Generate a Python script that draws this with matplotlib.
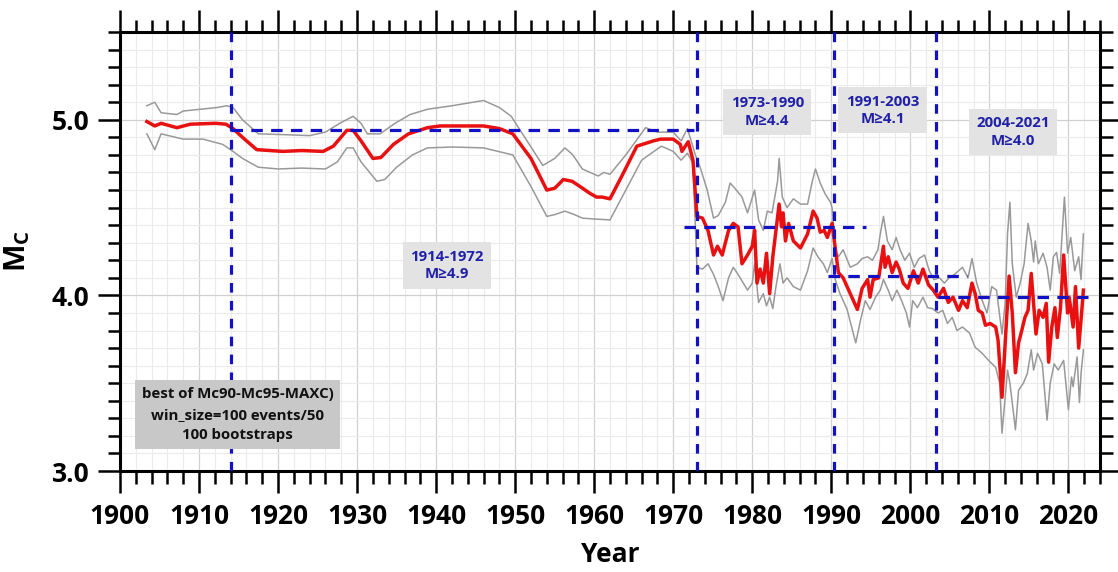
import matplotlib
matplotlib.use('Agg')
import matplotlib.pyplot as plt
from matplotlib.ticker import MultipleLocator, FormatStrFormatter

plt.rcParams['font.family'] = ['Open Sans', 'DejaVu Sans']
plt.rcParams['font.weight'] = 'bold'
plt.rcParams['mathtext.fontset'] = 'custom'
plt.rcParams['mathtext.rm'] = 'Open Sans:bold'
plt.rcParams['mathtext.bf'] = 'Open Sans:bold'

# Mc (best of Mc90 / Mc95 / MAXC) with bootstrap bounds
mc_year = [1903.4, 1904.4, 1905.2, 1907.2, 1908.9, 1912.1, 1913.4, 1914.3, 1915.5, 1917.3,
           1920.6, 1923.0, 1925.7, 1927.0, 1928.7, 1929.5, 1930.5, 1932.0, 1933.0, 1934.6,
           1936.5, 1938.9, 1940.5, 1946.0, 1948.0, 1949.7, 1952.0, 1954.0, 1955.0, 1956.1,
           1957.2, 1958.2, 1959.5, 1960.3, 1961.0, 1962.0, 1963.5, 1965.4, 1967.5, 1968.4,
           1970.0, 1970.9, 1971.1, 1971.9, 1972.5, 1973.0, 1973.7, 1974.4, 1975.1, 1975.6,
           1976.2, 1977.0, 1977.6, 1978.2, 1978.7, 1979.4, 1980.0, 1980.3, 1980.6, 1981.0,
           1981.4, 1981.8, 1982.2, 1982.6, 1983.0, 1983.4, 1983.7, 1983.9, 1984.2, 1984.6,
           1985.2, 1986.1, 1987.0, 1987.7, 1988.2, 1988.6, 1989.1, 1989.5, 1990.1, 1990.5,
           1990.9, 1991.5, 1992.4, 1993.3, 1993.9, 1994.6, 1994.9, 1995.3, 1996.0, 1996.6,
           1996.8, 1997.2, 1997.7, 1998.2, 1998.6, 1999.1, 1999.7, 2000.4, 2001.0, 2001.6,
           2002.3, 2002.9, 2003.5, 2004.2, 2004.8, 2005.4, 2006.1, 2006.6, 2007.2, 2007.8,
           2008.2, 2008.6, 2009.1, 2009.5, 2010.1, 2010.8, 2011.1, 2011.6, 2011.9, 2012.1,
           2012.5, 2012.9, 2013.3, 2013.7, 2014.1, 2014.5, 2014.9, 2015.3, 2015.6, 2015.9,
           2016.3, 2016.8, 2017.2, 2017.5, 2017.9, 2018.3, 2018.6, 2019.0, 2019.4, 2019.9,
           2020.1, 2020.6, 2020.9, 2021.3, 2021.6, 2021.9]
mc = [4.99, 4.965, 4.98, 4.955, 4.975, 4.98, 4.975, 4.95, 4.90, 4.83,
      4.82, 4.825, 4.82, 4.85, 4.94, 4.94, 4.88, 4.78, 4.785, 4.86,
      4.92, 4.955, 4.965, 4.965, 4.95, 4.92, 4.78, 4.60, 4.61, 4.66,
      4.65, 4.62, 4.58, 4.56, 4.56, 4.55, 4.68, 4.85, 4.88, 4.89,
      4.89, 4.86, 4.82, 4.875, 4.77, 4.45, 4.44, 4.37, 4.23, 4.28,
      4.23, 4.37, 4.41, 4.39, 4.18, 4.23, 4.28, 4.37, 4.07, 4.15,
      4.07, 4.24, 4.01, 4.22, 4.37, 4.52, 4.39, 4.47, 4.31, 4.41,
      4.31, 4.27, 4.35, 4.48, 4.44, 4.36, 4.37, 4.33, 4.41, 4.27,
      4.13, 4.10, 4.01, 3.92, 4.04, 4.09, 3.99, 4.09, 4.10, 4.28,
      4.16, 4.22, 4.13, 4.19, 4.15, 4.07, 4.04, 4.14, 4.07, 4.15,
      4.06, 4.03, 3.99, 4.04, 3.96, 3.99, 3.915, 3.97, 3.93, 4.07,
      4.01, 3.915, 3.90, 3.83, 3.84, 3.82, 3.745, 3.42, 3.65, 3.80,
      4.11, 3.90, 3.56, 3.73, 3.80, 3.875, 3.915, 4.125, 3.955, 3.78,
      3.915, 3.875, 3.955, 3.62, 3.82, 3.93, 3.76, 3.93, 4.23, 3.90,
      3.99, 3.82, 4.05, 3.70, 3.86, 4.03]

up_year = [1903.4, 1904.4, 1905.2, 1907.2, 1908.0, 1910.1, 1912.3, 1913.5, 1914.3, 1915.5,
           1917.5, 1921.0, 1924.0, 1926.0, 1927.8, 1929.5, 1930.5, 1931.3, 1932.9, 1934.8,
           1936.7, 1938.9, 1942.0, 1946.0, 1948.0, 1949.5, 1951.5, 1953.5, 1955.0, 1956.3,
           1957.3, 1958.5, 1960.5, 1961.2, 1962.0, 1964.0, 1966.5, 1968.0, 1970.0, 1971.0,
           1971.8, 1972.8, 1973.4, 1974.3, 1975.1, 1975.7, 1976.6, 1977.2, 1977.8, 1978.7,
           1979.4, 1980.3, 1980.8, 1981.4, 1981.9, 1982.5, 1983.2, 1983.4, 1983.8, 1984.4,
           1985.2, 1986.1, 1987.0, 1987.6, 1988.0, 1988.6, 1989.2, 1989.9, 1990.1, 1990.5,
           1990.9, 1991.5, 1992.4, 1993.3, 1993.9, 1994.6, 1995.2, 1995.9, 1996.2, 1996.6,
           1997.1, 1997.7, 1998.2, 1998.7, 1999.3, 1999.9, 2000.5, 2001.1, 2001.8, 2002.4,
           2003.0, 2003.7, 2004.3, 2004.9, 2005.6, 2006.6, 2007.3, 2007.8, 2008.4, 2009.1,
           2009.7, 2010.3, 2010.9, 2011.6, 2012.0, 2012.3, 2012.6, 2012.9, 2013.4, 2013.9,
           2014.4, 2014.9, 2015.3, 2015.6, 2015.8, 2016.2, 2016.8, 2017.3, 2017.7, 2018.1,
           2018.5, 2018.9, 2019.5, 2019.9, 2020.3, 2020.8, 2021.3, 2021.6, 2021.9]
mc_up = [5.08, 5.10, 5.04, 5.03, 5.05, 5.06, 5.07, 5.08, 5.07, 5.00,
         4.92, 4.915, 4.91, 4.93, 4.98, 5.02, 4.98, 4.92, 4.92, 4.98,
         5.03, 5.06, 5.08, 5.11, 5.07, 5.02, 4.88, 4.74, 4.78, 4.84,
         4.80, 4.72, 4.68, 4.70, 4.69, 4.80, 4.955, 4.93, 4.93, 4.88,
         4.95, 4.80, 4.73, 4.60, 4.44, 4.455, 4.53, 4.64, 4.61, 4.56,
         4.47, 4.60, 4.43, 4.37, 4.48, 4.47, 4.65, 4.78, 4.56, 4.50,
         4.55, 4.52, 4.52, 4.65, 4.72, 4.64, 4.58, 4.53, 4.50, 4.26,
         4.22, 4.26, 4.16, 4.18, 4.21, 4.22, 4.20, 4.26, 4.35, 4.45,
         4.31, 4.26, 4.33, 4.26, 4.20, 4.24, 4.16, 4.21, 4.23, 4.14,
         4.09, 4.10, 4.07, 4.10, 4.12, 4.16, 4.10, 4.21, 4.07, 3.97,
         3.90, 4.05, 4.03, 3.78, 3.955, 4.35, 4.53, 4.18, 3.99, 4.07,
         4.18, 4.41, 4.31, 4.19, 4.31, 4.18, 4.24, 4.16, 4.03, 4.22,
         4.245, 4.125, 4.56, 4.24, 4.33, 4.14, 4.22, 4.09, 4.35]

lo_year = [1903.4, 1904.4, 1905.2, 1908.0, 1910.5, 1913.0, 1914.3, 1915.5, 1917.5, 1920.0,
           1923.0, 1926.0, 1927.5, 1928.7, 1929.5, 1930.5, 1932.5, 1933.5, 1935.0, 1937.0,
           1938.9, 1942.0, 1946.0, 1949.7, 1952.0, 1954.0, 1955.0, 1956.3, 1957.5, 1958.5,
           1960.0, 1962.0, 1964.0, 1966.0, 1968.5, 1970.0, 1971.0, 1971.8, 1972.5, 1973.0,
           1973.7, 1974.4, 1975.1, 1975.7, 1976.3, 1977.0, 1977.6, 1978.2, 1979.4, 1980.0,
           1980.3, 1980.8, 1981.4, 1981.8, 1982.2, 1982.6, 1983.0, 1983.5, 1983.9, 1984.4,
           1985.2, 1986.1, 1987.0, 1987.7, 1988.3, 1989.0, 1989.5, 1990.1, 1990.5, 1991.1,
           1992.0, 1992.8, 1993.1, 1993.7, 1994.3, 1994.9, 1995.6, 1996.2, 1996.6, 1997.2,
           1997.7, 1998.3, 1998.9, 1999.5, 1999.9, 2000.3, 2000.9, 2001.6, 2002.2, 2002.8,
           2003.5, 2004.1, 2004.7, 2005.3, 2005.9, 2006.6, 2007.5, 2008.2, 2009.1, 2009.9,
           2010.8, 2011.3, 2011.6, 2012.0, 2012.3, 2012.6, 2013.3, 2013.7, 2014.3, 2014.8,
           2015.3, 2015.6, 2016.1, 2016.7, 2017.3, 2017.7, 2018.2, 2018.7, 2019.4, 2020.0,
           2020.4, 2020.6, 2021.1, 2021.4, 2021.6, 2021.9]
mc_lo = [4.92, 4.83, 4.92, 4.89, 4.89, 4.86, 4.82, 4.78, 4.73, 4.72,
         4.725, 4.72, 4.76, 4.84, 4.84, 4.76, 4.65, 4.66, 4.73, 4.80,
         4.84, 4.845, 4.84, 4.80, 4.62, 4.45, 4.46, 4.48, 4.46, 4.44,
         4.435, 4.43, 4.60, 4.77, 4.85, 4.82, 4.77, 4.81, 4.75, 4.16,
         4.15, 4.18, 4.12, 4.05, 3.97, 4.10, 4.16, 4.12, 4.03, 4.07,
         4.18, 3.96, 4.01, 3.94, 3.99, 3.925, 4.05, 4.18, 4.07, 4.10,
         4.05, 4.03, 4.14, 4.27, 4.22, 4.18, 4.13, 4.21, 4.09, 4.01,
         3.92, 3.78, 3.73, 3.86, 3.97, 3.92, 3.99, 4.03, 4.09, 4.03,
         3.97, 4.03, 3.97, 3.90, 3.82, 3.97, 3.93, 3.99, 3.93, 3.925,
         3.90, 3.915, 3.84, 3.875, 3.80, 3.82, 3.785, 3.705, 3.67, 3.63,
         3.59, 3.50, 3.215, 3.42, 3.575, 3.50, 3.235, 3.46, 3.50, 3.555,
         3.69, 3.575, 3.67, 3.61, 3.29, 3.50, 3.61, 3.575, 3.63, 3.35,
         3.535, 3.48, 3.65, 3.39, 3.555, 3.69]

# catalogue periods: boundaries and completeness level of each period
period_bounds = [1914.0, 1973.0, 1990.3, 2003.2]
level_mc = [4.94, 4.39, 4.11, 3.99]
level_from = [1914.0, 1971.4, 1989.6, 2003.5]
level_to = [1972.6, 1994.4, 2007.2, 2022.5]
period_text = ['1914-1972\nM\u22654.9', '1973-1990\nM\u22654.4',
               '1991-2003\nM\u22654.1', '2004-2021\nM\u22654.0']
info_text = 'best of Mc90-Mc95-MAXC)\nwin_size=100 events/50\n100 bootstraps'

W, H = 1118, 572
fig = plt.figure(figsize=(W / 100, H / 100), dpi=100)
ax = fig.add_axes([120 / W, 1 - 471 / H, 980 / W, 439 / H])

blue = '#1212c4'
ax.plot(up_year, mc_up, color='#999999', lw=1.1, zorder=3)
ax.plot(lo_year, mc_lo, color='#999999', lw=1.1, zorder=3)
ax.plot(mc_year, mc, color='#e81010', lw=2.5, zorder=4)

for x in period_bounds:
    ax.axvline(x, color=blue, lw=2.3, ls=(0, (3.0, 2.6)), zorder=5)
for m, x0, x1 in zip(level_mc, level_from, level_to):
    ax.plot([x0, x1], [m, m], color=blue, lw=2.3, ls=(0, (3.6, 2.6)), zorder=5)

# period labels
label_xy = [(1941.4, 4.17), (1981.9, 5.045), (1996.5, 5.054), (2013.0, 4.93)]
for (x, y), s in zip(label_xy, period_text):
    ax.text(x, y, s, ha='center', va='center', fontsize=10.8, color='#2020a8',
            fontweight='bold', linespacing=1.3, zorder=6,
            bbox=dict(boxstyle='square,pad=0.5', fc='#e3e3e3', ec='none'))

ax.text(1914.9, 3.32, info_text, ha='center', va='center', fontsize=10.8,
        color='#111111', fontweight='bold', linespacing=1.6, zorder=6,
        bbox=dict(boxstyle='square,pad=0.45', fc='#c8c8c8', ec='none'))

ax.set_xlim(1900, 2024)
ax.set_ylim(3.0, 5.5)
ax.xaxis.set_major_locator(MultipleLocator(10))
ax.xaxis.set_minor_locator(MultipleLocator(2))
ax.yaxis.set_major_locator(MultipleLocator(1.0))
ax.yaxis.set_minor_locator(MultipleLocator(0.1))
ax.yaxis.set_major_formatter(FormatStrFormatter('%.1f'))

ax.grid(which='major', color='#d0d0d0', lw=0.9)
ax.grid(which='minor', color='#ebebeb', lw=0.8)
ax.set_axisbelow(True)

for sp in ax.spines.values():
    sp.set_linewidth(2.2)
ax.tick_params(which='both', direction='out', top=True, right=True, width=1.8,
               labelsize=19, color='black')
ax.tick_params(which='major', length=16)
ax.tick_params(which='minor', length=9)
ax.tick_params(axis='x', which='major', pad=7)
ax.tick_params(axis='y', which='major', pad=6)

ax.set_xlabel('Year', fontsize=19, fontweight='bold', labelpad=8)
ax.set_ylabel(r'M$_\mathbf{C}$', fontsize=21, fontweight='bold', labelpad=14)

fig.savefig('out.png', dpi=100)
